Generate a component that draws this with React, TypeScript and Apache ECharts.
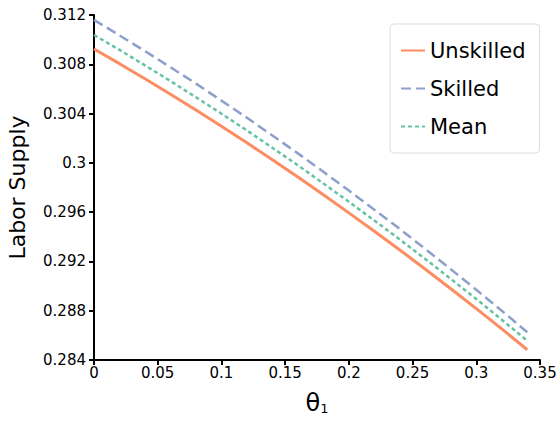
import React, { useEffect, useRef } from "react";
import * as echarts from "echarts";

const theta = [0, 0.02, 0.04, 0.06, 0.08, 0.1, 0.12, 0.14, 0.16, 0.18, 0.2, 0.22, 0.24, 0.26, 0.28, 0.3, 0.32, 0.34];
const unskilled = [0.30924, 0.30805, 0.30682, 0.30557, 0.30429, 0.30297, 0.30163, 0.30025, 0.29885, 0.29741, 0.29594, 0.29445, 0.29293, 0.29137, 0.28978, 0.28817, 0.28652, 0.28483];
const skilled = [0.3116, 0.31035, 0.30907, 0.30776, 0.30643, 0.30505, 0.30366, 0.30222, 0.30077, 0.29927, 0.29775, 0.2962, 0.29463, 0.29301, 0.29137, 0.2897, 0.288, 0.28625];
const mean = [0.31038, 0.30917, 0.30791, 0.30664, 0.30533, 0.30399, 0.30263, 0.30122, 0.2998, 0.29833, 0.29684, 0.29532, 0.29378, 0.2922, 0.29058, 0.28895, 0.28727, 0.28556];

const FONT = "DejaVu Sans";

export default function App() {
  const ref = useRef<HTMLDivElement>(null);
  useEffect(() => {
    const chart = echarts.init(ref.current!, null, { renderer: "svg" });
    const pair = (ys: number[]) => theta.map((x, i) => [x, ys[i]]);
    const fmt = (v: number) => String(+v.toFixed(3));
    chart.setOption({
      animation: false,
      textStyle: { fontFamily: FONT },
      grid: { left: 94, right: 20, top: 15, bottom: 66, outerBoundsMode: "none", containLabel: false },
      legend: {
        left: 390,
        top: 24,
        orient: "vertical",
        borderColor: "#dddddd",
        borderWidth: 1,
        borderRadius: 4,
        padding: [16, 14, 16, 10],
        itemWidth: 24,
        itemHeight: 20,
        itemGap: 17,
        itemStyle: { opacity: 0 },
        lineStyle: { width: 2 },
        textStyle: { fontFamily: FONT, fontSize: 21, color: "#000", padding: [0, 0, 0, 0] },
        data: ["Unskilled", "Skilled", "Mean"],
      },
      xAxis: {
        type: "value",
        min: 0,
        max: 0.35,
        interval: 0.05,
        name: "θ{s|1}",
        nameLocation: "middle",
        nameGap: 31,
        nameTextStyle: {
          fontFamily: FONT,
          fontSize: 24,
          color: "#000",
          rich: { s: { fontFamily: FONT, fontSize: 13, verticalAlign: "bottom", padding: [8, 0, 0, 0], color: "#000" } },
        },
        axisLine: { lineStyle: { color: "#000", width: 2 } },
        axisTick: { length: 5, lineStyle: { color: "#000", width: 2 } },
        axisLabel: { fontFamily: FONT, fontSize: 15, color: "#000", margin: 5, formatter: fmt },
        splitLine: { show: false },
      },
      yAxis: {
        type: "value",
        min: 0.284,
        max: 0.312,
        interval: 0.004,
        name: "Labor Supply",
        nameLocation: "middle",
        nameGap: 66,
        nameTextStyle: { fontFamily: FONT, fontSize: 22, color: "#000" },
        axisLine: { show: true, lineStyle: { color: "#000", width: 2 } },
        axisTick: { show: true, length: 5, lineStyle: { color: "#000", width: 2 } },
        axisLabel: { fontFamily: FONT, fontSize: 15, color: "#000", margin: 8, formatter: fmt },
        splitLine: { show: false },
      },
      series: [
        {
          name: "Unskilled",
          type: "line",
          symbol: "none",
          data: pair(unskilled),
          lineStyle: { color: "#fc8d62", width: 3, type: "solid" },
          itemStyle: { color: "#fc8d62" },
        },
        {
          name: "Skilled",
          type: "line",
          symbol: "none",
          data: pair(skilled),
          lineStyle: { color: "#8da0cb", width: 2.5, type: [10, 5] },
          itemStyle: { color: "#8da0cb" },
        },
        {
          name: "Mean",
          type: "line",
          symbol: "none",
          data: pair(mean),
          lineStyle: { color: "#66c2a5", width: 2.5, type: [4, 3] },
          itemStyle: { color: "#66c2a5" },
        },
      ],
    });
    return () => chart.dispose();
  }, []);
  return <div ref={ref} style={{ width: 560, height: 426, position: "absolute", left: 0, top: 0, background: "#fff" }} />;
}
